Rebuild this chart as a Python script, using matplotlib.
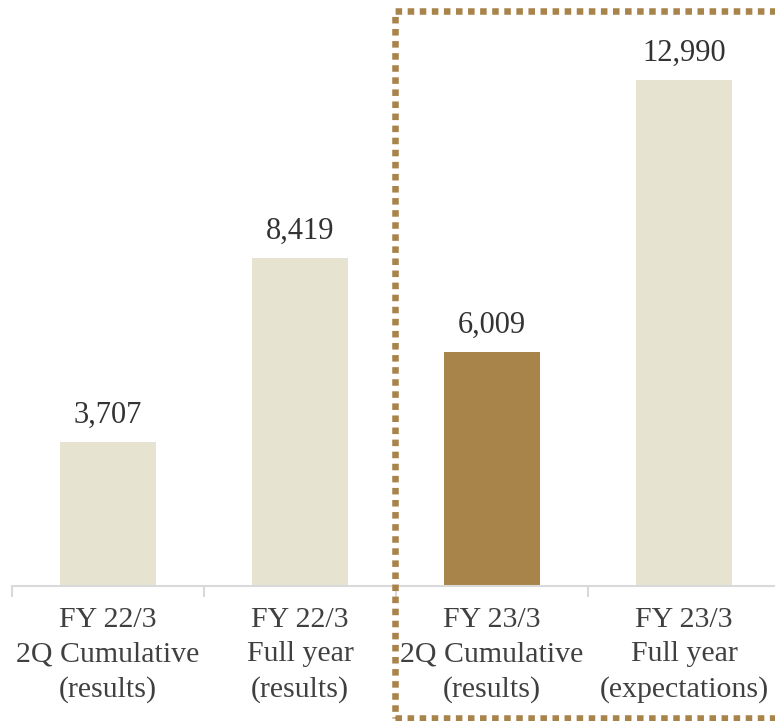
import matplotlib.pyplot as plt
from matplotlib.patches import Rectangle

labels = ['FY 22/3\n2Q Cumulative\n(results)', 'FY 22/3\nFull year\n(results)',
          'FY 23/3\n2Q Cumulative\n(results)', 'FY 23/3\nFull year\n(expectations)']
values = [3707, 8419, 6009, 12990]
colors = ['#e6e3d1', '#e6e3d1', '#a8834a', '#e6e3d1']

plt.rcParams['font.family'] = ['Liberation Serif', 'DejaVu Serif']

W, H = 775, 721
fig = plt.figure(figsize=(W / 100, H / 100), dpi=100)
fig.patch.set_facecolor('white')

# axes: bars centred every 192px, baseline at y=586
ax = fig.add_axes([12 / W, (H - 586) / H, 768 / W, 586 / H])
ax.set_xlim(-0.5, 3.5)
ax.set_ylim(0, 586 / (506 / 12990))

x = range(len(values))
ax.bar(x, values, width=0.505, color=colors, zorder=2)

for i, v in enumerate(values):
    ax.annotate(f'{v:,}', (i, v), xytext=(0, 8.5), textcoords='offset points',
                ha='center', va='bottom', fontsize=22, color='#333333')

for s in ['top', 'right', 'left']:
    ax.spines[s].set_visible(False)
ax.spines['bottom'].set_color('#d9d9d9')
ax.spines['bottom'].set_linewidth(1.5)
ax.set_yticks([])

ax.set_xticks(list(x))
ax.set_xticklabels(labels, fontsize=21.5, color='#404040', linespacing=1.42)
ax.tick_params(axis='x', which='major', length=0, pad=15)
ax.set_xticks([-0.5, 0.5, 1.5, 2.5, 3.5], minor=True)
ax.tick_params(axis='x', which='minor', length=8, width=1.5, color='#d9d9d9')

# dotted frame around the current fiscal year
box = Rectangle((395 / W, (H - 718) / H), 390 / W, 707 / H, transform=fig.transFigure,
                fill=False, edgecolor='#a8834a', linewidth=4.7, linestyle=(0, (1, 0.85)),
                capstyle='butt', zorder=5)
fig.patches.append(box)

fig.savefig('out.png', dpi=100)
